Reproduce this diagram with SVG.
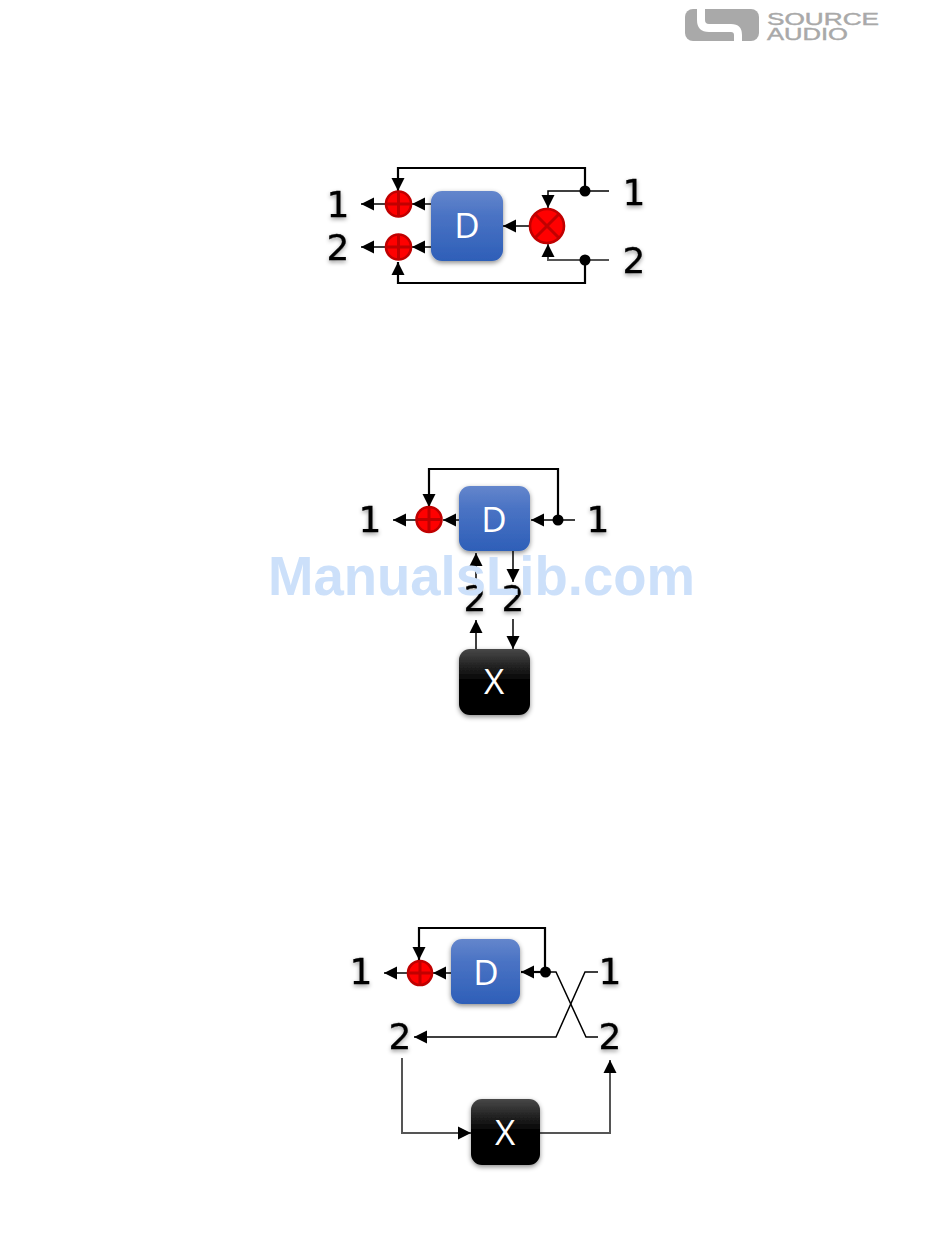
<svg xmlns="http://www.w3.org/2000/svg" width="950" height="1260" viewBox="0 0 950 1260">
<style>
.c{fill:none;stroke:#000;stroke-width:1.5}
.t{stroke-width:2.2}
.g{stroke:#555;stroke-width:2}
.a{marker-end:url(#arrow)}
.n{font-family:"DejaVu Sans",sans-serif;font-size:36px;text-anchor:middle;fill:#000;stroke:#000;stroke-width:0.3;filter:url(#ts)}
.l{font-family:"Open Sans",sans-serif;font-size:35px;text-anchor:middle;fill:#fff}
.sum{fill:#f00;stroke:#c00000;stroke-width:2.6}
.x{fill:none;stroke:#c00000;stroke-width:3}
.dot{fill:#000}
.logo{font-family:"Liberation Sans",sans-serif;fill:#a9a9a9;stroke:#a9a9a9;stroke-width:0.4}
</style>
<defs>
<marker id="arrow" markerUnits="userSpaceOnUse" markerWidth="14" markerHeight="14" refX="13" refY="7" orient="auto"><path d="M0,0.500 L13,7 L0,13.500 Z" fill="#000"/></marker>
<linearGradient id="blue" x1="0" y1="0" x2="0" y2="1"><stop offset="0" stop-color="#6486cc"/><stop offset="0.35" stop-color="#4a73c4"/><stop offset="1" stop-color="#2e5fb8"/></linearGradient>
<linearGradient id="black" x1="0" y1="0" x2="0" y2="1"><stop offset="0" stop-color="#484848"/><stop offset="0.5" stop-color="#000"/><stop offset="1" stop-color="#000"/></linearGradient>
<filter id="sh" x="-20%" y="-20%" width="140%" height="140%"><feDropShadow dx="0" dy="2" stdDeviation="2.500" flood-color="#000" flood-opacity="0.45"/></filter>
<filter id="ts" x="-40%" y="-40%" width="180%" height="180%"><feDropShadow dx="0" dy="2" stdDeviation="2" flood-color="#000" flood-opacity="0.4"/></filter>
</defs>

<g id="logo">
<rect x="685" y="9" width="74" height="32" rx="8" fill="#a9a9a9"/>
<path d="M701,5 V20 Q701,28 709,28 H731 Q738,28 738,35 V45" fill="none" stroke="#fff" stroke-width="8"/>
<text class="logo" x="767" y="25" font-size="16.500" textLength="112" lengthAdjust="spacingAndGlyphs">SOURCE</text>
<text class="logo" x="767" y="40" font-size="16.500" textLength="81" lengthAdjust="spacingAndGlyphs">AUDIO</text>
</g>

<g id="connectors">
<!-- diagram 1 -->
<path class="c t a" d="M585,191 V168 H398 V191"/>
<path class="c t a" d="M585,260 V283 H398 V262"/>
<path class="c a" d="M609,191 H548 V208"/>
<path class="c g a" d="M609,260 H548 V244"/>
<path class="c a" d="M386,204 H361"/>
<path class="c a" d="M386,247 H361"/>
<path class="c a" d="M431,204 H412"/>
<path class="c a" d="M431,247 H412"/>
<path class="c a" d="M530,226 H503"/>
<!-- diagram 2 -->
<path class="c t a" d="M558,520 V469 H429 V507"/>
<path class="c a" d="M416,520 H393"/>
<path class="c a" d="M461,520 H443"/>
<path class="c a" d="M575,520 H531"/>
<path class="c a" d="M476,585 V553"/>
<path class="c a" d="M513,551 V582"/>
<path class="c a" d="M476,649 V620"/>
<path class="c a" d="M513,619 V649"/>
<!-- diagram 3 -->
<path class="c t a" d="M545,972 V928 H419 V960"/>
<path class="c a" d="M408,973 H384"/>
<path class="c a" d="M451,973 H433"/>
<path class="c t a" d="M545,972 H521"/>
<path class="c" d="M545,972 H556 L586,1037 H598"/>
<path class="c a" d="M598,972 H585 L556,1037 H414" />
<path class="c g a" d="M402,1058 V1133 H471"/>
<path class="c g a" d="M540,1133 H610 V1060"/>
</g>

<g id="d1-box"><rect x="431" y="191" width="72" height="70" rx="11" fill="url(#blue)" filter="url(#sh)"/><text class="l" x="467" y="238">D</text></g>
<g id="d1-sum1"><circle class="sum" cx="398.500" cy="204" r="12.500"/><path class="x" d="M398.500,192 V216 M386.500,204 H410.500"/></g>
<g id="d1-sum2"><circle class="sum" cx="398.500" cy="247" r="12.500"/><path class="x" d="M398.500,235 V259 M386.500,247 H410.500"/></g>
<g id="d1-mult"><circle class="sum" cx="547" cy="226" r="17"/><path class="x" d="M535,214 L559,238 M559,214 L535,238"/></g>
<g id="d1-j1"><circle class="dot" cx="585" cy="191" r="5.500"/></g>
<g id="d1-j2"><circle class="dot" cx="585" cy="260" r="5.500"/></g>
<g id="d1-labels"><text class="n" x="338" y="217">1</text><text class="n" x="338" y="260">2</text><text class="n" x="634" y="205">1</text><text class="n" x="634" y="273">2</text></g>

<g id="d2-box"><rect x="459" y="486" width="71" height="65" rx="11" fill="url(#blue)" filter="url(#sh)"/><text class="l" x="494" y="532">D</text></g>
<g id="d2-x"><rect x="459" y="649" width="71" height="66" rx="11" fill="url(#black)" filter="url(#sh)"/><text class="l" x="494" y="694">X</text></g>
<g id="d2-sum"><circle class="sum" cx="429" cy="519.500" r="12.500"/><path class="x" d="M429,507.500 V531.500 M417,519.500 H441"/></g>
<g id="d2-j"><circle class="dot" cx="558" cy="520" r="5.500"/></g>
<g id="d2-labels"><text class="n" x="370" y="532">1</text><text class="n" x="598" y="532">1</text><text class="n" x="475" y="611">2</text><text class="n" x="513" y="611">2</text></g>

<g id="d3-box"><rect x="451" y="939" width="69" height="65" rx="11" fill="url(#blue)" filter="url(#sh)"/><text class="l" x="486" y="985">D</text></g>
<g id="d3-x"><rect x="471" y="1099" width="69" height="66" rx="11" fill="url(#black)" filter="url(#sh)"/><text class="l" x="505" y="1145">X</text></g>
<g id="d3-sum"><circle class="sum" cx="420" cy="973" r="12"/><path class="x" d="M420,961 V985 M408,973 H432"/></g>
<g id="d3-j"><circle class="dot" cx="545.500" cy="972" r="5.500"/></g>
<g id="d3-labels"><text class="n" x="361" y="984">1</text><text class="n" x="400" y="1049">2</text><text class="n" x="610" y="984">1</text><text class="n" x="610" y="1049">2</text></g>

<g id="watermark"><text x="268" y="595" font-family="Liberation Sans, sans-serif" font-weight="700" font-size="56" fill="#cce0fa" textLength="427" lengthAdjust="spacingAndGlyphs">ManualsLib.com</text></g>
</svg>
